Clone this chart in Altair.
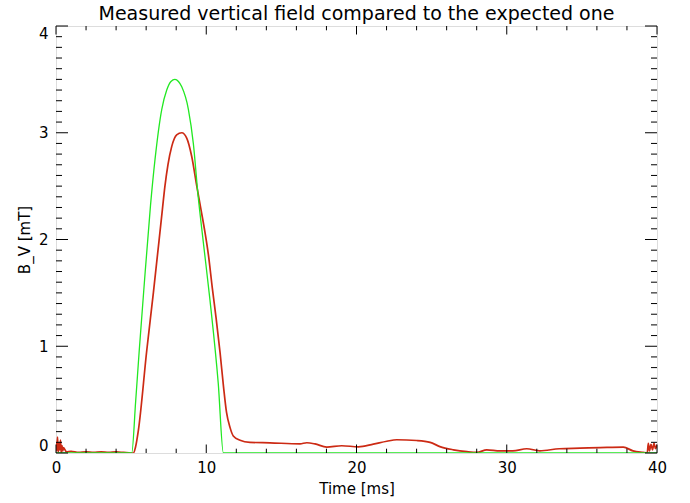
import altair as alt
import pandas as pd

# ---- data ----
green_t = [0.0, 5.04, 5.30, 5.54, 5.84, 6.29, 6.59, 7.04, 7.37, 7.65, 7.92, 8.15, 8.37, 8.81,
           9.14, 9.45, 9.80, 10.25, 10.80, 11.14, 40.0]
green_v = [0.0, 0.0, 0.48, 0.96, 1.52, 2.32, 2.75, 3.22, 3.40, 3.48, 3.50, 3.48, 3.43, 3.22,
           2.90, 2.42, 1.98, 1.43, 0.65, 0.0, 0.0]

red_t = [0.00, 0.05, 0.10, 0.15, 0.20, 0.25, 0.30, 0.35, 0.40, 0.45, 0.50, 0.70, 1.0, 1.5, 2.0,
         2.5, 3.0, 3.5, 4.0, 4.5, 5.0, 5.15, 5.30, 5.48, 6.04, 6.48, 7.08, 7.25, 7.45, 7.70, 8.03,
         8.37, 8.70, 9.03, 9.37, 9.65, 9.90, 10.14, 10.40, 10.65, 10.92, 11.15, 11.35, 11.58,
         11.80, 12.25, 12.91,
         14.24, 16.24, 16.69, 17.24, 18.02, 19.02, 20.13, 21.12, 22.02, 22.68, 24.01, 24.90,
         25.55, 26.45, 27.35, 28.02, 28.67, 29.55, 30.40, 31.33, 32.20, 33.50, 34.88, 36.21,
         37.76, 38.40, 39.07, 39.35, 39.42, 39.50, 39.60, 39.70, 39.80, 39.90, 40.00]
red_v = [0.10, 0.02, 0.15, 0.01, 0.09, 0.03, 0.12, 0.00, 0.07, 0.02, 0.05, 0.01, 0.015, 0.005, 0.01,
         0.005, 0.01, 0.005, 0.01, 0.005, 0.0, 0.0, 0.06, 0.21, 0.96, 1.50, 2.28, 2.50, 2.70, 2.87, 2.98,
         3.00, 2.95, 2.78, 2.50, 2.28, 2.08, 1.86, 1.55, 1.27, 0.94, 0.62, 0.38, 0.24,
         0.16, 0.12, 0.10,
         0.095, 0.086, 0.096, 0.085, 0.055, 0.068, 0.058, 0.083, 0.11, 0.124, 0.117, 0.10,
         0.06, 0.03, 0.012, 0.005, 0.03, 0.02, 0.02, 0.04, 0.02, 0.04, 0.045, 0.05,
         0.055, 0.02, 0.005, 0.0, 0.09, 0.02, 0.08, 0.03, 0.09, 0.04, 0.08]

x_major = [0, 10, 20, 30, 40]
x_minor = [2, 4, 6, 8, 12, 14, 16, 18, 22, 24, 26, 28, 32, 34, 36, 38]
y_major = [0, 1, 2, 3, 4]
y_minor = [round(i * 0.1, 1) for i in range(41) if i % 10 != 0]

W, H = 601, 427
FONT = "DejaVu Sans"

green_df = pd.DataFrame({"t": green_t, "v": green_v})
red_df = pd.DataFrame({"t": red_t, "v": red_v})

xscale = alt.Scale(domain=[0, 40], nice=False, zero=False)
yscale = alt.Scale(domain=[0, 4], nice=False, zero=False)

red = alt.Chart(red_df).mark_line(color="#cc2a14", strokeWidth=1.7, clip=True,
                                  interpolate="monotone").encode(
    x=alt.X("t:Q", scale=xscale,
            axis=alt.Axis(values=x_major, format="d", ticks=False, domain=False, grid=False,
                          labelPadding=7, labelFlush=False, labelFont=FONT, labelFontSize=15,
                          labelColor="black", title="Time [ms]", titleFont=FONT,
                          titleFontSize=15, titleFontWeight="normal", titleColor="black",
                          titlePadding=6)),
    y=alt.Y("v:Q", scale=yscale,
            axis=alt.Axis(values=y_major, format="d", ticks=False, domain=False, grid=False,
                          labelPadding=8, labelFlush=True, labelFont=FONT, labelFontSize=15,
                          labelColor="black", title="B_V [mT]", titleFont=FONT,
                          titleFontSize=15, titleFontWeight="normal", titleColor="black",
                          titlePadding=6)),
    order="t:Q",
)

green = alt.Chart(green_df).mark_line(color="#22e822", strokeWidth=1.3, clip=True,
                                      interpolate="monotone").encode(
    x=alt.X("t:Q", scale=xscale),
    y=alt.Y("v:Q", scale=yscale),
    order="t:Q",
)

def xticks(vals, length):
    df = pd.DataFrame({"t": vals})
    base = alt.Chart(df).mark_rule(color="black", strokeWidth=1)
    bottom = base.encode(x=alt.X("t:Q", scale=xscale),
                         y=alt.value(H), y2=alt.value(H - length))
    top = base.encode(x=alt.X("t:Q", scale=xscale),
                      y=alt.value(0), y2=alt.value(length))
    return [bottom, top]

def yticks(vals, length):
    df = pd.DataFrame({"v": vals})
    base = alt.Chart(df).mark_rule(color="black", strokeWidth=1)
    left = base.encode(y=alt.Y("v:Q", scale=yscale),
                       x=alt.value(0), x2=alt.value(length))
    right = base.encode(y=alt.Y("v:Q", scale=yscale),
                        x=alt.value(W), x2=alt.value(W - length))
    return [left, right]

layers = ([red, green] + xticks(x_major, 8.5) + xticks(x_minor, 4.3) +
          yticks(y_major, 12) + yticks(y_minor, 6))

chart = alt.layer(*layers).properties(
    width=W, height=H,
    autosize=alt.AutoSizeParams(type="none"),
    padding={"left": 56, "top": 26, "right": 33, "bottom": 50},
    title=alt.TitleParams(text="Measured vertical field compared to the expected one",
                          font=FONT, fontSize=19, fontWeight="normal", color="black",
                          anchor="middle", offset=2),
).configure_view(stroke="black", strokeWidth=1).configure(background="white")

chart.save("out.html", embed_options={"renderer": "svg", "actions": False})
